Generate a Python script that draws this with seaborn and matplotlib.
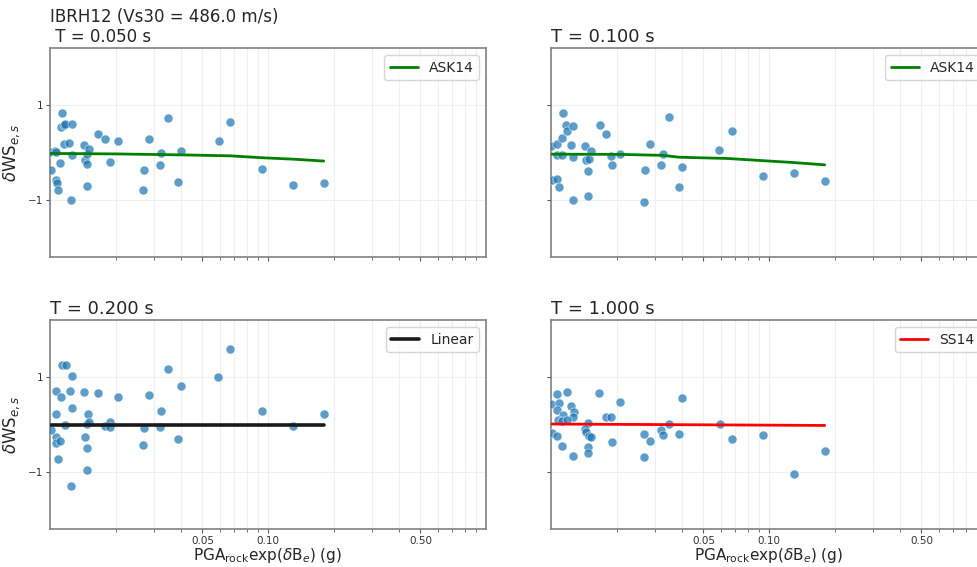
import numpy as np
import pandas as pd
import seaborn as sns
import matplotlib.pyplot as plt
from matplotlib.ticker import FixedLocator, FormatStrFormatter

# residuals, one set per period
x_t005 = [0.00995, 0.0101, 0.01054, 0.01065, 0.01065, 0.01073, 0.01092, 0.01132, 0.0112, 0.01163,
          0.01175, 0.01257, 0.01115, 0.01163, 0.01226, 0.01266, 0.01248, 0.01432, 0.01447, 0.01474,
          0.01483, 0.01514, 0.01474, 0.01666, 0.01788, 0.01884, 0.02058, 0.02662, 0.02699, 0.02845,
          0.03195, 0.03239, 0.03477, 0.03866, 0.04003, 0.05941, 0.06694, 0.09357, 0.1302, 0.1801]
y_t005 = [0.02, -0.36, 0.03, 0.01, -0.58, -0.65, -0.79, 0.84, 0.54, 0.58,
          0.6, 0.6, -0.22, 0.17, 0.19, -0.05, -1.0, 0.16, -0.15, -0.24,
          -0.03, 0.08, -0.71, 0.4, 0.29, -0.21, 0.25, -0.78, -0.36, 0.29,
          -0.27, -0.01, 0.73, -0.62, 0.04, 0.25, 0.64, -0.34, -0.69, -0.64]

x_t010 = [0.00995, 0.01007, 0.01062, 0.01092, 0.01065, 0.01065, 0.0112, 0.01127, 0.01138, 0.01172,
          0.0118, 0.01257, 0.01231, 0.01264, 0.01257, 0.01437, 0.01444, 0.01489, 0.01521, 0.01483,
          0.01474, 0.01673, 0.01782, 0.01875, 0.01898, 0.02077, 0.02671, 0.02685, 0.02845, 0.0319,
          0.03247, 0.03484, 0.03877, 0.03998, 0.05916, 0.06745, 0.09387, 0.1302, 0.1807]
y_t010 = [0.13, -0.58, -0.56, -0.72, 0.18, -0.06, -0.06, 0.31, 0.84, 0.57,
          0.46, 0.56, 0.16, -0.09, -0.99, 0.13, -0.15, -0.13, 0.04, -0.39,
          -0.92, 0.58, 0.4, -0.08, -0.26, -0.03, -1.05, -0.36, 0.18, -0.26,
          -0.03, 0.74, -0.72, -0.3, 0.06, 0.46, -0.5, -0.44, -0.6]

x_t020 = [0.0101, 0.01132, 0.0118, 0.01257, 0.01062, 0.01123, 0.01229, 0.01429, 0.01663, 0.02061,
          0.01266, 0.01063, 0.01486, 0.01168, 0.01478, 0.01514, 0.01069, 0.01063, 0.01117, 0.01447,
          0.01474, 0.01092, 0.01474, 0.01248, 0.01784, 0.01884, 0.01884, 0.0269, 0.02662, 0.02839,
          0.03183, 0.03239, 0.03477, 0.03866, 0.03988, 0.05917, 0.06694, 0.09357, 0.1298, 0.1801]
y_t020 = [-0.12, 1.26, 1.26, 1.02, 0.7, 0.58, 0.7, 0.68, 0.67, 0.57,
          0.35, 0.22, 0.23, -0.01, 0.01, 0.05, -0.27, -0.38, -0.35, -0.27,
          -0.5, -0.73, -0.96, -1.29, -0.03, 0.05, -0.06, -0.07, -0.43, 0.63,
          -0.06, 0.29, 1.16, -0.31, 0.81, 1.0, 1.59, 0.29, -0.04, 0.22]

x_t100 = [0.00995, 0.01069, 0.0118, 0.01092, 0.01062, 0.01235, 0.01131, 0.01275, 0.01257, 0.01073,
          0.01127, 0.0118, 0.01665, 0.0208, 0.01782, 0.01878, 0.01474, 0.01432, 0.01452, 0.01494,
          0.01526, 0.01014, 0.01065, 0.0112, 0.01257, 0.01483, 0.01483, 0.01898, 0.02662, 0.02845,
          0.02676, 0.0319, 0.03247, 0.03487, 0.03877, 0.03998, 0.0595, 0.06745, 0.09387, 0.1302, 0.1807]
y_t100 = [0.44, 0.65, 0.68, 0.45, 0.3, 0.38, 0.21, 0.26, 0.16, 0.09,
          0.07, 0.09, 0.67, 0.47, 0.15, 0.15, 0.03, -0.1, -0.16, -0.24,
          -0.26, -0.18, -0.25, -0.46, -0.66, -0.48, -0.61, -0.37, -0.19, -0.34,
          -0.68, -0.12, -0.23, 0.02, -0.2, 0.55, 0.02, -0.31, -0.22, -1.04, -0.56]

# model curves
ask14_x_t005 = [0.0101, 0.02, 0.04, 0.0669, 0.0936, 0.1302, 0.1801]
ask14_y_t005 = [-0.02, -0.03, -0.05, -0.07, -0.11, -0.14, -0.18]
ask14_x_t010 = [0.0101, 0.0208, 0.0325, 0.0388, 0.064, 0.128, 0.1801]
ask14_y_t010 = [-0.035, -0.04, -0.06, -0.1, -0.125, -0.21, -0.26]
linear_x_t020 = [0.0101, 0.1801]
linear_y_t020 = [-0.01, -0.01]
ss14_x_t100 = [0.0101, 0.1801]
ss14_y_t100 = [0.01, -0.02]

titles = ["IBRH12 (Vs30 = 486.0 m/s)\n T = 0.050 s", "T = 0.100 s", "T = 0.200 s", "T = 1.000 s"]

sns.set_style("whitegrid", {
    "axes.edgecolor": "#808080",
    "grid.color": "#efefef",
    "xtick.bottom": True,
    "ytick.left": True,
})
plt.rcParams["axes.linewidth"] = 1.2
plt.rcParams["xtick.color"] = "#555555"
plt.rcParams["ytick.color"] = "#555555"
plt.rcParams["xtick.labelcolor"] = "#333333"
plt.rcParams["ytick.labelcolor"] = "#333333"

fig, axes = plt.subplots(2, 2, figsize=(9.77, 5.67), dpi=100, sharex=True, sharey=True)

panels = [
    (x_t005, y_t005, ask14_x_t005, ask14_y_t005, "ASK14", "green", 2.0),
    (x_t010, y_t010, ask14_x_t010, ask14_y_t010, "ASK14", "green", 2.0),
    (x_t020, y_t020, linear_x_t020, linear_y_t020, "Linear", "#1a1a1a", 2.6),
    (x_t100, y_t100, ss14_x_t100, ss14_y_t100, "SS14", "red", 2.0),
]

lefts = [50 / 977, 551 / 977]
bottoms = [1 - 257 / 567, 1 - 529 / 567]
w, h = 436 / 977, 209 / 567

for i, ax in enumerate(axes.flat):
    xs, ys, lx, ly, name, col, lw = panels[i]
    ax.set_position([lefts[i % 2], bottoms[i // 2], w, h])
    sns.scatterplot(x=xs, y=ys, ax=ax, s=42, color="#1f77b4", alpha=0.72,
                    edgecolor="white", linewidth=0.5, zorder=3)
    sns.lineplot(x=lx, y=ly, ax=ax, color=col, lw=lw, label=name, estimator=None, zorder=4)
    ax.set_xscale("log")
    ax.set_xlim(0.01, 1.0)
    ax.set_ylim(-2.2, 2.2)
    ax.xaxis.set_major_locator(FixedLocator([0.05, 0.1, 0.5]))
    ax.xaxis.set_major_formatter(FormatStrFormatter("%.2f"))
    ax.set_yticks([-1, 1])
    ax.grid(True, which="both", color="#efefef", lw=0.8)
    ax.tick_params(axis="both", which="major", labelsize=7.5, length=3, width=0.8, pad=2)
    ax.tick_params(axis="x", which="minor", length=2, width=0.6)
    ax.legend(loc="upper right", fontsize=10, frameon=True)
    ax.set_title(titles[i], loc="left", fontsize=12 if i == 0 else 13, pad=4)
    ax.set_xlabel("")
    ax.set_ylabel("")
    for sp in ax.spines.values():
        sp.set_color("#808080")

for ax in axes[:, 0]:
    ax.set_ylabel(r"$\delta$WS$_{e,s}$", fontsize=12)
for ax in axes[1, :]:
    ax.set_xlabel(r"PGA$_{\rm rock}$exp($\delta$B$_e$) (g)", fontsize=11, labelpad=0)

fig.savefig("out.png", dpi=100)
